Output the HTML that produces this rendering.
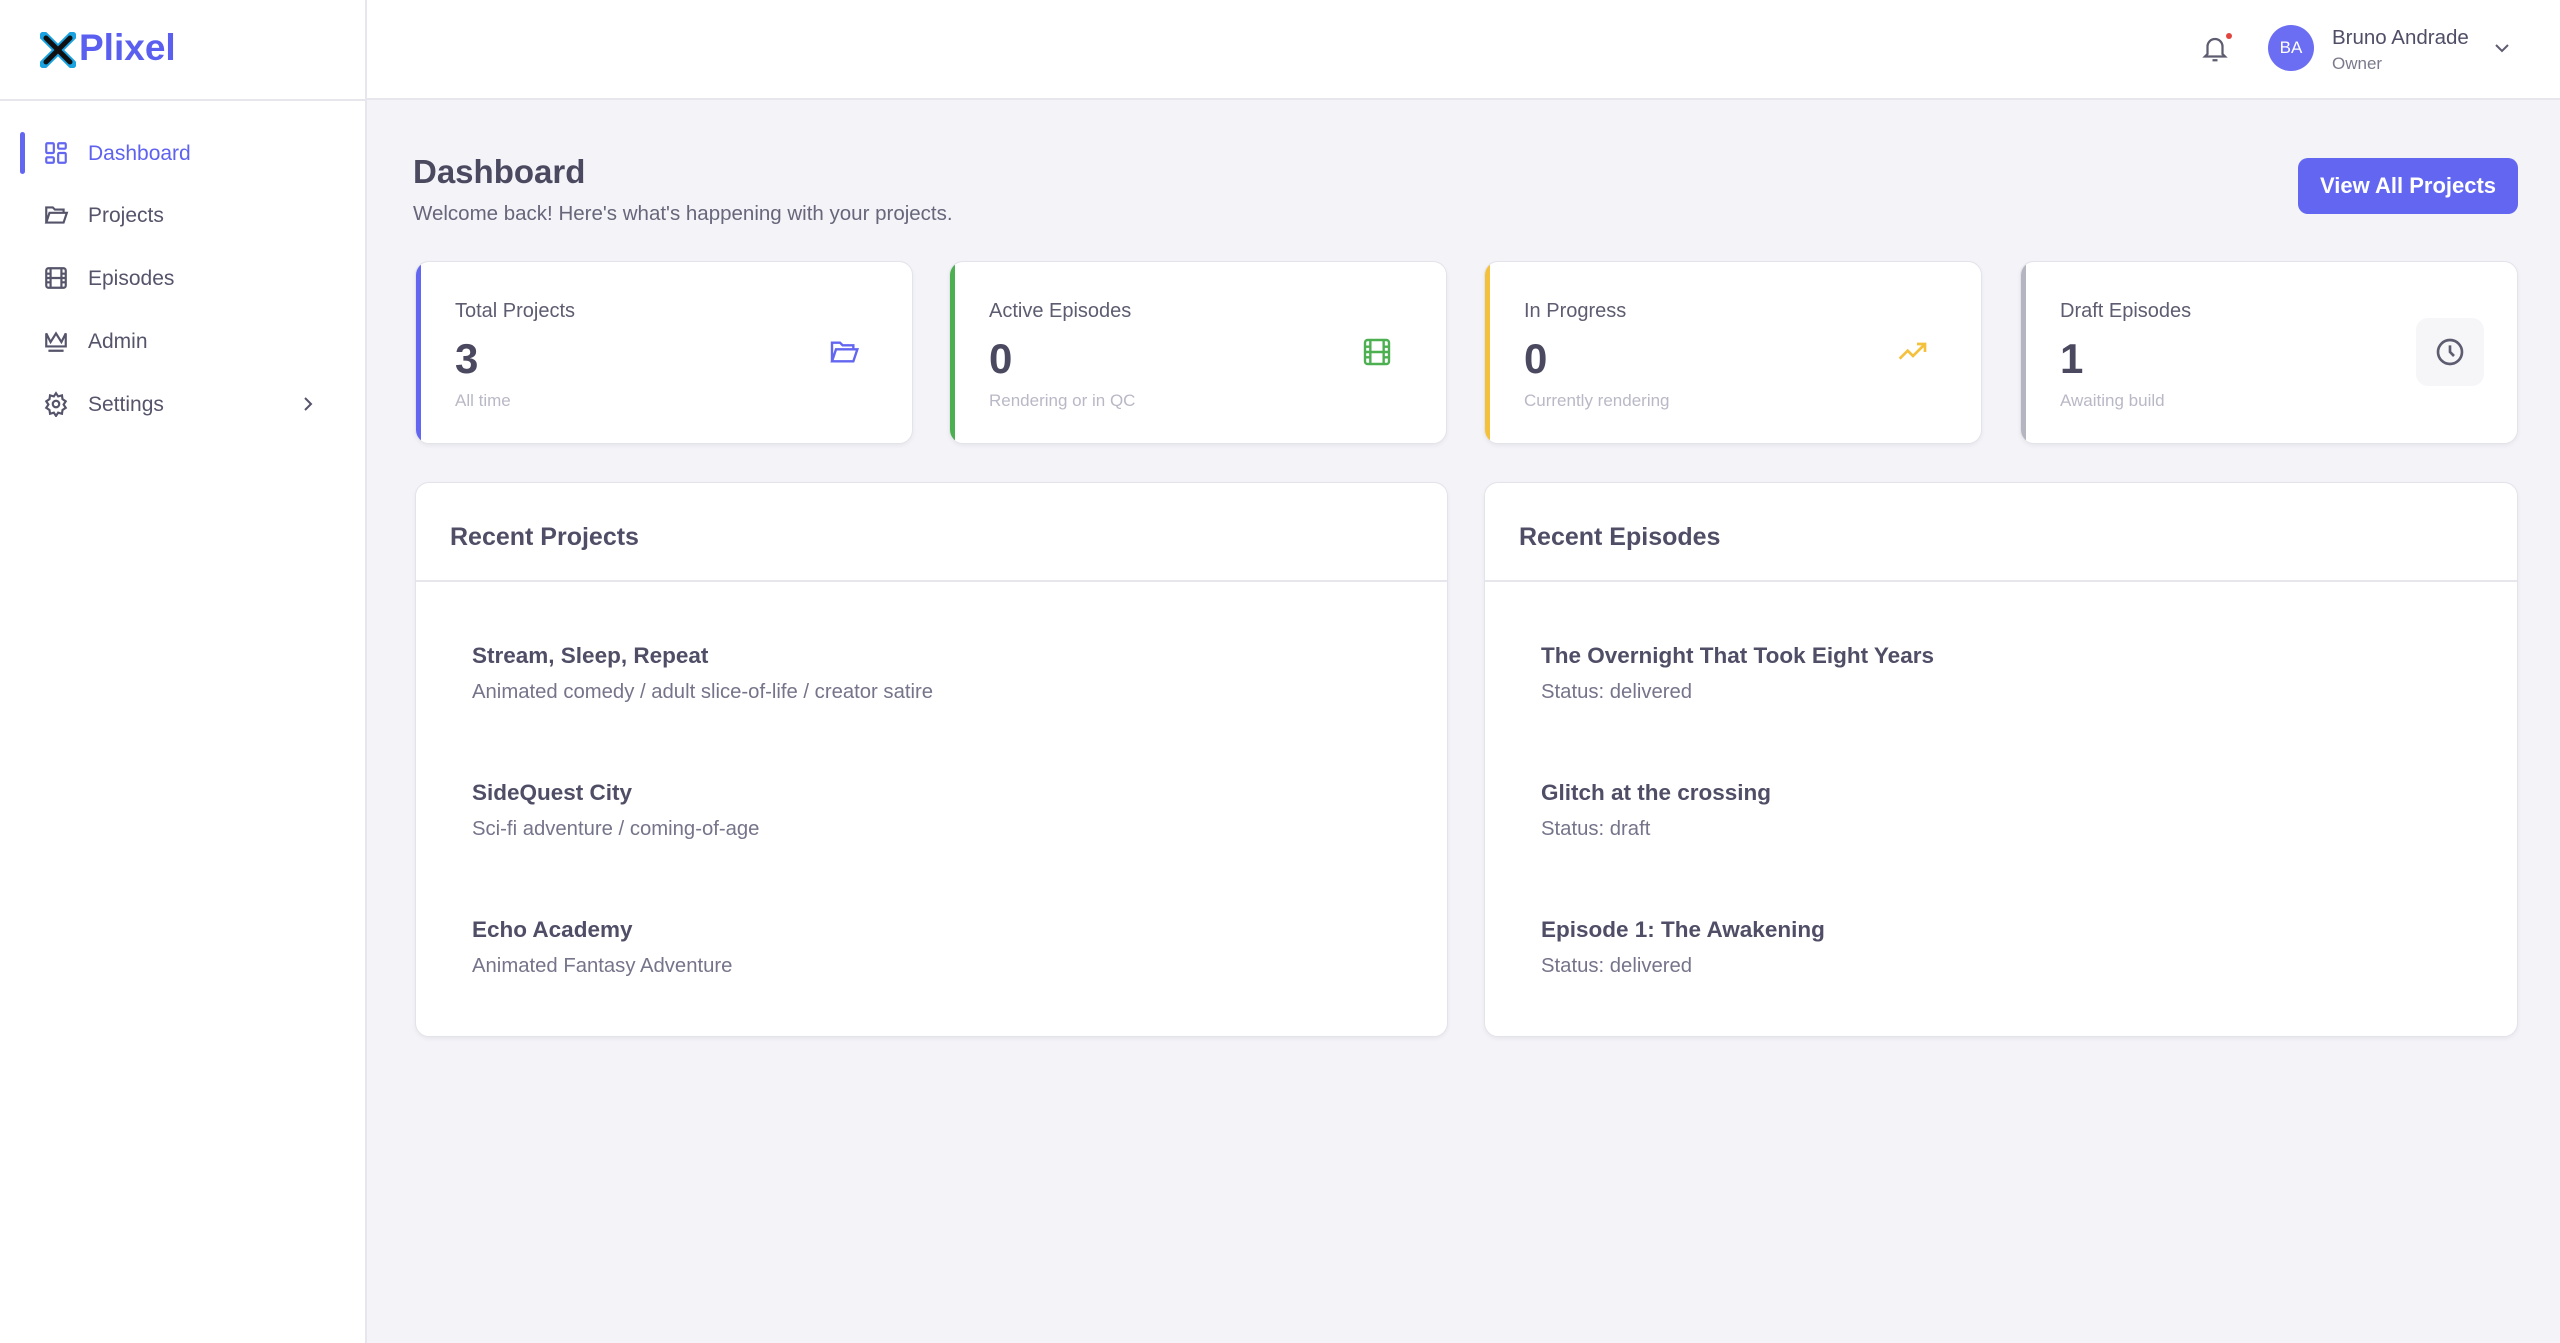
<!DOCTYPE html>
<html><head><meta charset="utf-8"><style>
*{margin:0;padding:0;box-sizing:border-box}
body{width:2560px;height:1343px;overflow:hidden;background:#f3f3f8;font-family:"Liberation Sans",sans-serif;color:#4a4960;position:relative}
.abs{position:absolute}
#side{left:0;top:0;width:367px;height:1343px;background:#fff;border-right:2px solid #e6e6ec}
#top{left:367px;top:0;width:2193px;height:100px;background:#fff;border-bottom:2px solid #e6e6ec}
#logoline{left:0;top:99px;width:367px;height:2px;background:#e6e6ec}
.nav{position:absolute;left:88px;font-size:21px;color:#55546a;line-height:24px}
.nav svg{position:absolute;left:-45px;top:-2px}
.card{position:absolute;background:#fff;border:1.5px solid #e3e3ea;border-radius:14px;box-shadow:0 2px 4px rgba(0,0,0,.05);overflow:hidden}
.stat{top:261px;width:498px;height:183px}
.stat .bar{position:absolute;left:0;top:0;width:5px;height:100%}
.stat .l{position:absolute;left:39px;top:38px;font-size:20px;color:#5d5c70}
.stat .n{position:absolute;left:39px;top:73px;font-size:42px;font-weight:bold;color:#4a4960}
.stat .s{position:absolute;left:39px;top:129px;font-size:17px;color:#b9b8c6}
.panel{top:482px;width:1033px;height:555px}
.panel h2{position:absolute;left:34px;top:40px;font-size:25px;font-weight:bold;color:#4f4e66}
.panel .div{position:absolute;left:0;top:97px;width:100%;height:2px;background:#e6e6ec}
.it{position:absolute;left:56px}
.it b{display:block;font-size:22.5px;color:#4f4e66}
.it span{display:block;font-size:20.3px;color:#75748a;margin-top:12px}
</style></head><body>
<div id="side" class="abs"></div>
<div id="top" class="abs"></div>
<div id="logoline" class="abs"></div>
<svg class="abs" style="left:40px;top:32px" width="36" height="36" viewBox="0 0 36 36"><path d="M4 4 L32 32 M32 4 L4 32" stroke="#1aa3e0" stroke-width="9" stroke-linecap="round"/><path d="M6 6 L30 30 M30 6 L6 30" stroke="#111" stroke-width="5" stroke-linecap="round"/></svg>
<div class="abs" style="left:79px;top:27px;font-size:37px;font-weight:bold;color:#5a5ff0">Plixel</div>
<div class="abs" style="left:20px;top:132px;width:5px;height:42px;background:#6366f1;border-radius:3px"></div>
<div class="nav" style="top:142px;color:#5f62ef"><svg width="26" height="26" viewBox="0 0 24 24" fill="none" stroke="#6366f1" stroke-width="2"><rect x="3" y="3" width="7" height="9" rx="1"/><rect x="14" y="3" width="7" height="5" rx="1"/><rect x="14" y="12" width="7" height="9" rx="1"/><rect x="3" y="16" width="7" height="5" rx="1"/></svg>Dashboard</div>
<div class="nav" style="top:204px"><svg width="26" height="26" viewBox="0 0 24 24" fill="none" stroke="#55546a" stroke-width="2"><path d="M3 19V5h6l2 2h8v3M3 19l3-9h16l-3 9z"/></svg>Projects</div>
<div class="nav" style="top:267px"><svg width="26" height="26" viewBox="0 0 24 24" fill="none" stroke="#55546a" stroke-width="2"><rect x="3" y="3" width="18" height="18" rx="2"/><path d="M7 3v18M17 3v18M3 8h4M3 12h18M3 16h4M17 8h4M17 16h4"/></svg>Episodes</div>
<div class="nav" style="top:330px"><svg width="26" height="26" viewBox="0 0 24 24" fill="none" stroke="#55546a" stroke-width="2"><path d="M3 5l4 8 5-8 5 8 4-8v12H3zM5 21h14"/></svg>Admin</div>
<div class="nav" style="top:393px"><svg width="26" height="26" viewBox="0 0 24 24" fill="none" stroke="#55546a" stroke-width="2"><circle cx="12" cy="12" r="3"/><path d="M12 2l2 3 3.5-1 .5 3.5 3 2-2 3 2 3-3 2-.5 3.5-3.5-1-2 3-2-3-3.5 1-.5-3.5-3-2 2-3-2-3 3-2 .5-3.5 3.5 1z"/></svg>Settings</div>
<svg class="abs" style="left:302px;top:395px" width="12" height="18" viewBox="0 0 12 18" fill="none" stroke="#55546a" stroke-width="2"><path d="M3 3l6 6-6 6"/></svg>

<svg class="abs" style="left:2200px;top:33px" width="30" height="32" viewBox="0 0 24 24" fill="none" stroke="#5d5c70" stroke-width="1.8"><path d="M6 16V10a6 6 0 0112 0v6l2 2H4zM10 21h4"/></svg>
<div class="abs" style="left:2226px;top:33px;width:6px;height:6px;border-radius:50%;background:#e0463f"></div>
<div class="abs" style="left:2268px;top:25px;width:46px;height:46px;border-radius:50%;background:#6b6ef2;color:#fff;font-size:17px;text-align:center;line-height:46px">BA</div>
<div class="abs" style="left:2332px;top:26px;font-size:20.5px;color:#4f4e66">Bruno Andrade</div>
<div class="abs" style="left:2332px;top:54px;font-size:17px;color:#7b7a8c">Owner</div>
<svg class="abs" style="left:2494px;top:42px" width="16" height="12" viewBox="0 0 16 12" fill="none" stroke="#5d5c70" stroke-width="2"><path d="M2 3l6 6 6-6"/></svg>

<div class="abs" style="left:413px;top:153px;font-size:33px;font-weight:bold;color:#4a4960">Dashboard</div>
<div class="abs" style="left:413px;top:202px;font-size:20.5px;color:#67667a">Welcome back! Here's what's happening with your projects.</div>
<div class="abs" style="left:2298px;top:158px;width:220px;height:56px;border-radius:10px;background:#6366f1;color:#fff;font-size:22px;font-weight:bold;text-align:center;line-height:56px">View All Projects</div>

<div class="card stat" style="left:415px"><div class="bar" style="background:#6366f1"></div><div class="l">Total Projects</div><div class="n">3</div><div class="s">All time</div>
<svg class="abs" style="left:411px;top:74px" width="34" height="32" viewBox="0 0 24 24" fill="none" stroke="#6366f1" stroke-width="1.8"><path d="M3 19V5h6l2 2h8v3M3 19l3-9h16l-3 9z"/></svg></div>
<div class="card stat" style="left:949px"><div class="bar" style="background:#4caf50"></div><div class="l">Active Episodes</div><div class="n">0</div><div class="s">Rendering or in QC</div>
<svg class="abs" style="left:411px;top:74px" width="32" height="32" viewBox="0 0 24 24" fill="none" stroke="#4caf50" stroke-width="1.8"><rect x="3" y="3" width="18" height="18" rx="2"/><path d="M7 3v18M17 3v18M3 8h4M3 12h18M3 16h4M17 8h4M17 16h4"/></svg></div>
<div class="card stat" style="left:1484px"><div class="bar" style="background:#f4c13d"></div><div class="l">In Progress</div><div class="n">0</div><div class="s">Currently rendering</div>
<svg class="abs" style="left:411px;top:74px" width="34" height="32" viewBox="0 0 24 24" fill="none" stroke="#f4c13d" stroke-width="2"><path d="M2 17l6-6 4 4 9-9M15 6h6v6"/></svg></div>
<div class="card stat" style="left:2020px"><div class="bar" style="background:#b5b5c0"></div><div class="l">Draft Episodes</div><div class="n">1</div><div class="s">Awaiting build</div>
<div class="abs" style="left:395px;top:56px;width:68px;height:68px;border-radius:12px;background:#f6f6f8"></div>
<svg class="abs" style="left:413px;top:74px" width="32" height="32" viewBox="0 0 24 24" fill="none" stroke="#5d5c70" stroke-width="2"><circle cx="12" cy="12" r="9"/><path d="M12 7v5l3 3"/></svg></div>

<div class="card panel" style="left:415px"><h2>Recent Projects</h2><div class="div"></div>
<div class="it" style="top:160px"><b>Stream, Sleep, Repeat</b><span>Animated comedy / adult slice-of-life / creator satire</span></div>
<div class="it" style="top:297px"><b>SideQuest City</b><span>Sci-fi adventure / coming-of-age</span></div>
<div class="it" style="top:434px"><b>Echo Academy</b><span>Animated Fantasy Adventure</span></div></div>
<div class="card panel" style="left:1484px;width:1034px"><h2>Recent Episodes</h2><div class="div"></div>
<div class="it" style="top:160px"><b>The Overnight That Took Eight Years</b><span>Status: delivered</span></div>
<div class="it" style="top:297px"><b>Glitch at the crossing</b><span>Status: draft</span></div>
<div class="it" style="top:434px"><b>Episode 1: The Awakening</b><span>Status: delivered</span></div></div>
</body></html>
